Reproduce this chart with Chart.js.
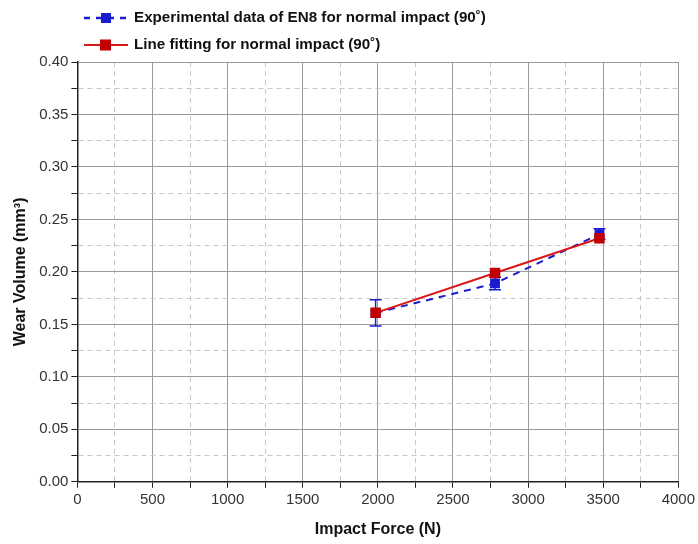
<!DOCTYPE html>
<html>
<head>
<meta charset="utf-8">
<script src="https://cdn.jsdelivr.net/npm/chart.js@4"></script>
<style>
  body { margin: 0; background: #fff; }
  #wrap { width: 698px; height: 544px; position: relative; }
</style>
</head>
<body>
<div id="wrap"><canvas id="chart"></canvas></div>
<script>
// impact force (N) and wear volume (mm3)
const forces = [1985, 2780, 3475];
const expWear = [0.161, 0.189, 0.236];
const expErr = [0.0125, 0.006, 0.005];
const fitWear = [0.161, 0.199, 0.232];

const expLabel = "Experimental data of EN8 for normal impact (90\u02DA)";
const fitLabel = "Line fitting for normal impact (90\u02DA)";

const FONT = "'Liberation Sans', Arial, sans-serif";
const BLUE = "#1b1bd0";
const RED = "#d81818";
const DARKRED = "#c00000";

const toPoints = (xs, ys) => xs.map((x, i) => ({ x: x, y: ys[i] }));

// vertical error bars on the experimental series
const errorBars = {
  id: "errorBars",
  beforeDatasetsDraw(chart) {
    const { ctx, scales } = chart;
    ctx.save();
    ctx.strokeStyle = BLUE;
    ctx.lineWidth = 1.5;
    forces.forEach((f, i) => {
      const x = scales.x.getPixelForValue(f);
      const top = scales.y.getPixelForValue(expWear[i] + expErr[i]);
      const bot = scales.y.getPixelForValue(expWear[i] - expErr[i]);
      ctx.beginPath();
      ctx.moveTo(x, top); ctx.lineTo(x, bot);
      ctx.moveTo(x - 6, top); ctx.lineTo(x + 6, top);
      ctx.moveTo(x - 6, bot); ctx.lineTo(x + 6, bot);
      ctx.stroke();
    });
    ctx.restore();
  }
};

// legend drawn above the plot, left aligned
const topLegend = {
  id: "topLegend",
  afterDraw(chart) {
    const ctx = chart.ctx;
    ctx.save();
    ctx.font = "bold 15.2px " + FONT;
    ctx.textBaseline = "middle";
    // experimental
    let y = 18;
    ctx.strokeStyle = BLUE;
    ctx.lineWidth = 2.5;
    ctx.setLineDash([6, 6]);
    ctx.beginPath(); ctx.moveTo(84, y); ctx.lineTo(128, y); ctx.stroke();
    ctx.setLineDash([]);
    ctx.fillStyle = BLUE;
    ctx.fillRect(101, y - 5, 10, 10);
    ctx.fillStyle = "#111";
    ctx.fillText(expLabel, 134, y);
    // fit
    y = 45;
    ctx.strokeStyle = RED;
    ctx.lineWidth = 2;
    ctx.beginPath(); ctx.moveTo(84, y); ctx.lineTo(128, y); ctx.stroke();
    ctx.fillStyle = DARKRED;
    ctx.fillRect(100, y - 5.5, 11, 11);
    ctx.fillStyle = "#111";
    ctx.fillText(fitLabel, 134, y);
    ctx.restore();
  }
};

const isMajor = (v, step) => Math.abs(v / step - Math.round(v / step)) < 1e-6;

new Chart(document.getElementById("chart"), {
  type: "line",
  data: {
    datasets: [
      {
        label: fitLabel,
        data: toPoints(forces, fitWear),
        borderColor: RED,
        borderWidth: 2,
        pointStyle: "rect",
        pointRadius: 6,
        pointBackgroundColor: DARKRED,
        pointBorderColor: DARKRED,
        order: 0
      },
      {
        label: expLabel,
        data: toPoints(forces, expWear),
        borderColor: BLUE,
        borderWidth: 2,
        borderDash: [7, 6],
        pointStyle: "rect",
        pointRadius: 5.5,
        pointBackgroundColor: BLUE,
        pointBorderColor: BLUE,
        order: 1
      }
    ]
  },
  options: {
    responsive: true,
    maintainAspectRatio: false,
    animation: false,
    layout: { padding: { top: 62, right: 0, left: 7, bottom: 1 } },
    plugins: { legend: { display: false }, tooltip: { enabled: false } },
    scales: {
      x: {
        type: "linear",
        min: 0,
        max: 4000,
        grid: {
          color: ctx => isMajor(ctx.tick.value, 500) ? "#9a9a9a" : "#c8c8c8",
          lineWidth: 1,
          tickColor: "#222",
          tickLength: 6
        },
        border: {
          color: "#222",
          width: 1.5,
          dash: ctx => ctx.tick && !isMajor(ctx.tick.value, 500) ? [5, 4] : []
        },
        ticks: {
          stepSize: 250,
          autoSkip: false,
          maxRotation: 0,
          color: "#333",
          font: { family: FONT, size: 15 },
          callback: v => isMajor(v, 500) ? String(v) : ""
        },
        title: {
          display: true,
          text: "Impact Force (N)",
          color: "#111",
          font: { family: FONT, size: 16, weight: "bold" },
          padding: { top: 8 }
        }
      },
      y: {
        min: 0,
        max: 0.4,
        grid: {
          color: ctx => isMajor(ctx.tick.value, 0.05) ? "#9a9a9a" : "#c8c8c8",
          lineWidth: 1,
          tickColor: "#222",
          tickLength: 6
        },
        border: {
          color: "#222",
          width: 1.5,
          dash: ctx => ctx.tick && !isMajor(ctx.tick.value, 0.05) ? [5, 4] : []
        },
        ticks: {
          stepSize: 0.025,
          autoSkip: false,
          color: "#333",
          font: { family: FONT, size: 15 },
          callback: v => isMajor(v, 0.05) ? Number(v).toFixed(2) : ""
        },
        title: {
          display: true,
          text: "Wear Volume (mm\u00B3)",
          color: "#111",
          font: { family: FONT, size: 16, weight: "bold" },
          padding: { bottom: 6 }
        }
      }
    }
  },
  plugins: [errorBars, topLegend]
});
</script>
</body>
</html>
